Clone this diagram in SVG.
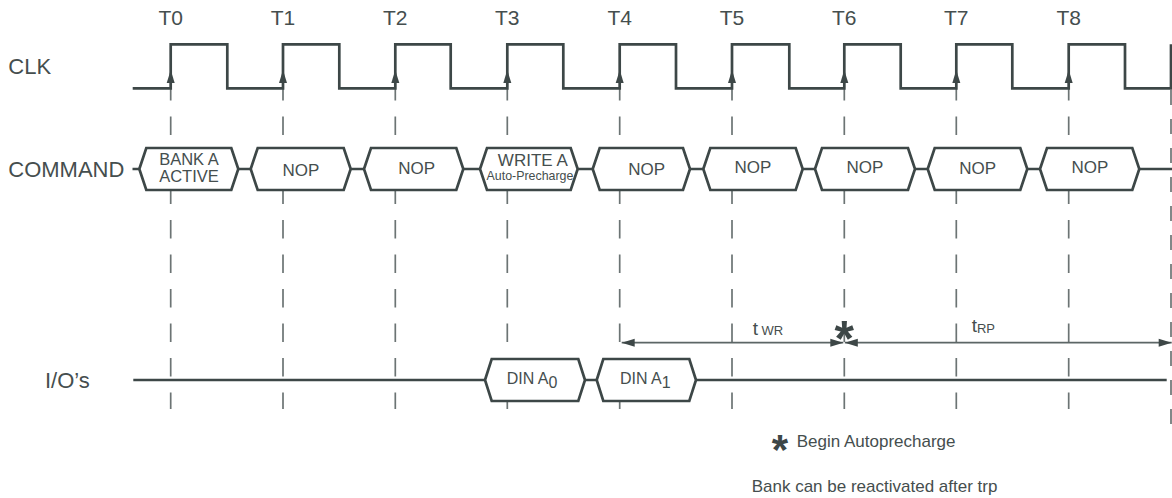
<svg xmlns="http://www.w3.org/2000/svg" xmlns:xlink="http://www.w3.org/1999/xlink" width="1172" height="498" viewBox="0 0 1172 498">
<style>
  text { font-family: "Liberation Sans", Arial, sans-serif; fill: #454e4e; }
  .lbl { font-size: 22px; }
  .tl { font-size: 21px; text-anchor: middle; }
  .cmd { font-size: 17px; text-anchor: middle; }
  .sig { fill: none; stroke: #3d4747; stroke-width: 2.7; stroke-linejoin: miter; }
  .box { fill: #ffffff; stroke: #3d4747; stroke-width: 2.7; stroke-linejoin: miter; }
  .guide { stroke: #6c7474; stroke-width: 1.7; stroke-dasharray: 18.5 16; fill: none; }
  .guide2 { stroke: #6c7474; stroke-width: 1.7; stroke-dasharray: 15 14; fill: none; }
  .tim { stroke: #5c6666; stroke-width: 1.8; fill: none; marker-start: url(#ah); marker-end: url(#ah); }
  .star { font-weight: bold; text-anchor: middle; fill: #3d4747; }
</style>
<defs>
  <marker id="ah" markerUnits="userSpaceOnUse" markerWidth="13" markerHeight="8" refX="13" refY="4" orient="auto-start-reverse" overflow="visible">
    <path d="M0,0 L13,4 L0,8 Z" fill="#3d4747"/>
  </marker>
  <path id="ca" d="M0,0 L4,13 L-4,13 Z" fill="#3d4747"/>
</defs>

<g id="guides">
  <line class="guide" x1="170.7" y1="82" x2="170.7" y2="409"/>
  <line class="guide" x1="283" y1="82" x2="283" y2="409"/>
  <line class="guide" x1="395.3" y1="82" x2="395.3" y2="409"/>
  <line class="guide" x1="507.3" y1="82" x2="507.3" y2="409"/>
  <line class="guide" x1="619.7" y1="82" x2="619.7" y2="409"/>
  <line class="guide" x1="732" y1="82" x2="732" y2="409"/>
  <line class="guide" x1="844.3" y1="82" x2="844.3" y2="409"/>
  <line class="guide" x1="956.3" y1="82" x2="956.3" y2="409"/>
  <line class="guide" x1="1068.7" y1="82" x2="1068.7" y2="409"/>
  <line class="guide2" x1="1171" y1="90" x2="1171" y2="430"/>
</g>

<g id="labels">
  <text class="lbl" x="8.3" y="74">CLK</text>
  <text class="lbl" x="8.3" y="176.7">COMMAND</text>
  <text class="lbl" x="45" y="388">I/O’s</text>
  <text class="tl" x="170.7" y="25">T0</text>
  <text class="tl" x="283" y="25">T1</text>
  <text class="tl" x="395.3" y="25">T2</text>
  <text class="tl" x="507.3" y="25">T3</text>
  <text class="tl" x="619.7" y="25">T4</text>
  <text class="tl" x="732" y="25">T5</text>
  <text class="tl" x="844.3" y="25">T6</text>
  <text class="tl" x="956.3" y="25">T7</text>
  <text class="tl" x="1068.7" y="25">T8</text>
</g>

<g id="clock">
  <path class="sig" d="M132.7,88.3 H170.7 V44.3 H227.3 V88.3 H283 V44.3 H339.3 V88.3 H395.3 V44.3 H450.7 V88.3 H507.3 V44.3 H563.3 V88.3 H619.7 V44.3 H676 V88.3 H732 V44.3 H789.3 V88.3 H844.3 V44.3 H900.7 V88.3 H956.3 V44.3 H1012.3 V88.3 H1068.7 V44.3 H1125 V88.3 H1171 V44.3"/>
  <use xlink:href="#ca" x="170.7" y="70"/>
  <use xlink:href="#ca" x="283" y="70"/>
  <use xlink:href="#ca" x="395.3" y="70"/>
  <use xlink:href="#ca" x="507.3" y="70"/>
  <use xlink:href="#ca" x="619.7" y="70"/>
  <use xlink:href="#ca" x="732" y="70"/>
  <use xlink:href="#ca" x="844.3" y="70"/>
  <use xlink:href="#ca" x="956.3" y="70"/>
  <use xlink:href="#ca" x="1068.7" y="70"/>
</g>

<g id="command-bus">
  <line class="sig" x1="132.5" y1="169" x2="1172" y2="169"/>
</g>
<g id="cmd-t0">
  <path class="box" d="M139.3,169 L146.3,148 L231.3,148 L238.3,169 L231.3,190 L146.3,190 Z"/>
  <text class="cmd" x="189" y="164.5" style="font-size:16.5px">BANK A</text>
  <text class="cmd" x="189" y="182.3" style="font-size:16.5px">ACTIVE</text>
</g>
<g id="cmd-t1">
  <path class="box" d="M250.7,169 L257.7,148 L343.7,148 L350.7,169 L343.7,190 L257.7,190 Z"/>
  <text class="cmd" x="301" y="175.5">NOP</text>
</g>
<g id="cmd-t2">
  <path class="box" d="M364,169 L371,148 L456.3,148 L463.3,169 L456.3,190 L371,190 Z"/>
  <text class="cmd" x="416.7" y="173.5">NOP</text>
</g>
<g id="cmd-t3">
  <path class="box" d="M480,169 L487,148 L570.7,148 L577.7,169 L570.7,190 L487,190 Z"/>
  <text class="cmd" x="532.8" y="165.7">WRITE A</text>
  <text class="cmd" x="530" y="180" style="font-size:12.4px">Auto-Precharge</text>
</g>
<g id="cmd-t4">
  <path class="box" d="M592.7,169 L599.7,148 L683,148 L690,169 L683,190 L599.7,190 Z"/>
  <text class="cmd" x="646.7" y="175">NOP</text>
</g>
<g id="cmd-t5">
  <path class="box" d="M703.3,169 L710.3,148 L795.7,148 L802.7,169 L795.7,190 L710.3,190 Z"/>
  <text class="cmd" x="753" y="173">NOP</text>
</g>
<g id="cmd-t6">
  <path class="box" d="M815,169 L822,148 L908,148 L915,169 L908,190 L822,190 Z"/>
  <text class="cmd" x="865" y="173">NOP</text>
</g>
<g id="cmd-t7">
  <path class="box" d="M927.7,169 L934.7,148 L1020.3,148 L1027.3,169 L1020.3,190 L934.7,190 Z"/>
  <text class="cmd" x="977.7" y="174">NOP</text>
</g>
<g id="cmd-t8">
  <path class="box" d="M1040,169 L1047,148 L1132.3,148 L1139.3,169 L1132.3,190 L1047,190 Z"/>
  <text class="cmd" x="1090" y="173">NOP</text>
</g>

<g id="io-bus">
  <line class="sig" x1="133.3" y1="380" x2="1166.7" y2="380"/>
</g>
<g id="din-a0">
  <path class="box" d="M485,380 L491.7,359 L578.3,359 L585,380 L578.3,401 L491.7,401 Z"/>
  <text x="506.7" y="384.3" style="font-size:16px">DIN A<tspan dy="4">0</tspan></text>
</g>
<g id="din-a1">
  <path class="box" d="M596.7,380 L603.3,359 L689.3,359 L696,380 L689.3,401 L603.3,401 Z"/>
  <text x="620" y="384.3" style="font-size:16px">DIN A<tspan dy="4">1</tspan></text>
</g>

<g id="connectors">
  <line class="tim" x1="621.7" y1="342.7" x2="843.3" y2="342.7"/>
  <line class="tim" x1="844.8" y1="342.7" x2="1171.7" y2="342.7"/>
</g>

<g id="timing-labels">
  <text x="752.7" y="335" style="font-size:19px">t<tspan style="font-size:13px"> WR</tspan></text>
  <text x="971.7" y="332" style="font-size:19px">t<tspan style="font-size:13px" dy="1">RP</tspan></text>
  <text class="star" x="844.3" y="356" style="font-size:50px">*</text>
</g>

<g id="notes">
  <text class="star" x="780" y="464" style="font-size:42px">*</text>
  <text x="796.7" y="447" style="font-size:17px">Begin Autoprecharge</text>
  <text x="751.7" y="492" style="font-size:17px">Bank can be reactivated after trp</text>
</g>
</svg>
